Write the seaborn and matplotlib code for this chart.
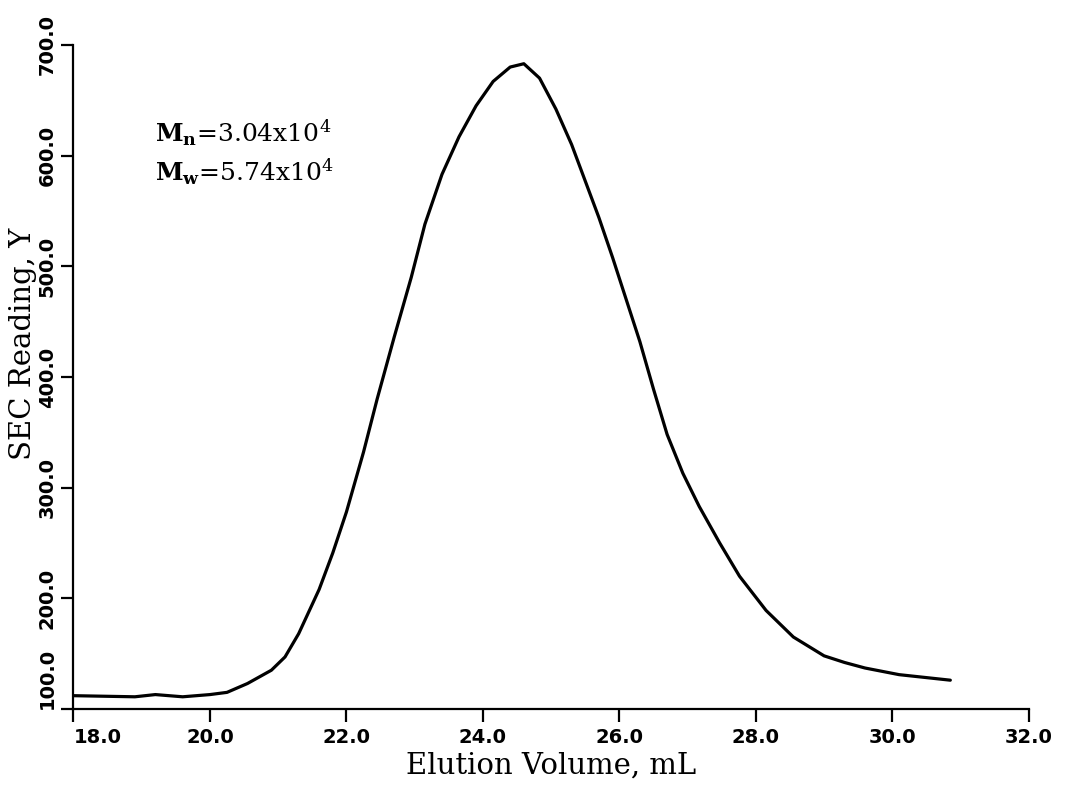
import numpy as np
import pandas as pd
import matplotlib
matplotlib.use("Agg")
import matplotlib.pyplot as plt
import seaborn as sns

# SEC trace
volume = [18.0, 18.9, 19.2, 19.6, 20.0, 20.25, 20.55, 20.9, 21.1, 21.3,
          21.6, 21.8, 22.0, 22.25, 22.45, 22.7, 22.95, 23.15, 23.4, 23.65,
          23.9, 24.15, 24.4, 24.6, 24.83, 25.07, 25.3, 25.5, 25.7, 25.9,
          26.1, 26.3, 26.5, 26.7, 26.93, 27.17, 27.47, 27.76, 28.15, 28.55,
          29.0, 29.3, 29.6, 30.1, 30.85]
reading = [112, 111, 113, 111, 113, 115, 123, 135, 147, 168,
           208, 241, 278, 332, 380, 436, 490, 538, 583, 617,
           645, 667, 680, 683, 670, 642, 610, 577, 544, 508,
           470, 432, 389, 348, 313, 283, 250, 220, 189, 165,
           148, 142, 137, 131, 126]
xticks = [18, 20, 22, 24, 26, 28, 30, 32]
yticks = [100, 200, 300, 400, 500, 600, 700]
mn_label = r"$\mathbf{M_n}$=3.04x10$^4$"
mw_label = r"$\mathbf{M_w}$=5.74x10$^4$"

sns.set_style("ticks")
plt.rcParams["font.family"] = ["DejaVu Serif"]
plt.rcParams["mathtext.fontset"] = "dejavuserif"
plt.rcParams["text.color"] = "black"

df = pd.DataFrame({"volume": volume, "reading": reading})

fig = plt.figure(figsize=(10.65, 7.88), dpi=100)
ax = fig.add_axes([0.069, 0.1003, 0.897, 0.8427])
sns.lineplot(data=df, x="volume", y="reading", color="black", lw=2.3, ax=ax)

ax.set_xlim(18, 32)
ax.set_ylim(100, 700)
ax.set_xticks(xticks)
ax.set_yticks(yticks)
ax.set_xticklabels([f"{t:.1f}" for t in xticks], family="DejaVu Sans",
                   weight="bold", fontsize=14)
ax.set_yticklabels([f"{t:.1f}" for t in yticks], family="DejaVu Sans",
                   weight="bold", fontsize=14, rotation=90, va="center")
ax.tick_params(direction="out", length=9, width=1.6, colors="black")
ax.tick_params(axis="x", pad=5)
ax.tick_params(axis="y", pad=3)
# nudge the corner labels apart like the original plotter did
ax.get_xticklabels()[0].set_ha("left")
ax.get_yticklabels()[0].set_va("bottom")
for s in ["left", "bottom"]:
    ax.spines[s].set_linewidth(1.6)
    ax.spines[s].set_color("black")
sns.despine(ax=ax)

ax.set_xlabel("Elution Volume, mL", fontsize=21, labelpad=3, color="black")
ax.set_ylabel("SEC Reading, Y", fontsize=21, color="black")
ax.yaxis.set_label_coords(-0.038, 0.55)

ax.text(0.085, 0.855, mn_label, transform=ax.transAxes, fontsize=18,
        color="black")
ax.text(0.085, 0.795, mw_label, transform=ax.transAxes, fontsize=18,
        color="black")

fig.savefig("out.png", dpi=100)
